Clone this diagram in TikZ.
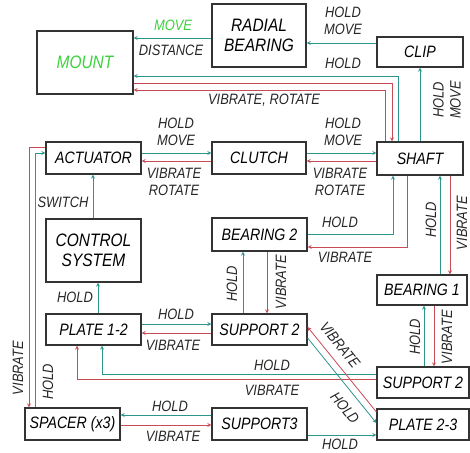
\documentclass[tikz,border=0pt]{standalone}
\usepackage{fontspec}
\setmainfont{Liberation Sans}[FakeStretch=0.86]
\usepackage{tikz}
\usetikzlibrary{positioning}

\definecolor{holdc}{RGB}{45,150,140}
\definecolor{vibc}{RGB}{200,75,85}
\definecolor{mvgreen}{RGB}{60,210,60}

\begin{document}
\begin{tikzpicture}[x=1pt, y=-1pt, >=stealth,
    block/.style={draw=black!80, line width=1.2pt, minimum width=95pt, minimum height=32pt,
                  inner sep=0pt, align=center, font=\fontsize{16.5}{20}\selectfont\itshape},
    bigblock/.style={block, minimum height=63pt, font=\fontsize{18}{20}\selectfont\itshape},
    lbl/.style={inner sep=0pt, align=center, text=black!85, font=\fontsize{15}{17}\selectfont\itshape},
    hold/.style={draw=holdc, line width=0.8pt},
    vib/.style={draw=vibc, line width=0.8pt}]
  \useasboundingbox (0,0) rectangle (470,452);
  % boxes
  \node[bigblock, minimum width=96pt, text=mvgreen] (mount) at (85,62.5) {MOUNT};
  \node[bigblock, minimum width=94pt] (radial) at (259,35.5) {RADIAL\\BEARING};
  \node[block, minimum width=86pt, minimum height=30pt] (clip) at (420,52) {CLIP};
  \node[block] (actuator) at (93.5,158) {ACTUATOR};
  \node[block, minimum width=94pt] (clutch) at (259,158) {CLUTCH};
  \node[block, minimum width=86pt, minimum height=33pt] (shaft) at (420,158.5) {SHAFT};
  \node[block, minimum height=33pt] (bearing2) at (259.5,234.5) {BEARING 2};
  \node[bigblock] (control) at (93.5,250.5) {CONTROL\\SYSTEM};
  \node[block, minimum width=90pt, minimum height=30pt] (bearing1) at (422,290) {BEARING 1};
  \node[block, minimum height=31pt] (plate12) at (93.5,329.5) {PLATE 1-2};
  \node[block, minimum height=31pt] (supportmid) at (259.5,329.5) {SUPPORT 2};
  \node[block, minimum width=92pt, minimum height=31pt] (supportright) at (423,382.5) {SUPPORT 2};
  \node[block] (spacer) at (72.5,424) {SPACER (x3)};
  \node[block] (support3) at (259.5,424) {SUPPORT3};
  \node[block, minimum width=92pt, minimum height=31pt] (plate23) at (423,424.5) {PLATE 2-3};

  % top row
  \draw[hold,->] (clip.west |- 0,43) -- (radial.east |- 0,43);
  \node[lbl] (lclip) at (343,21) {HOLD\\MOVE};
  \draw[hold,->] (radial.west |- 0,38) -- (mount.east |- 0,38);
  \node[lbl, text=mvgreen] (lmove) at (173,25) {MOVE};
  \node[lbl] (ldist) at (171,50) {DISTANCE};
  \draw[hold,->] (shaft.north -| 398,0) |- (mount.east |- 0,76);
  \node[lbl] (lmount) at (343,63) {HOLD};
  \draw[vib,->] (mount.east |- 0,83) -| (shaft.north -| 392,0);
  \draw[vib,->] (shaft.north -| 385,0) |- (mount.east |- 0,90);
  \node[lbl] (lvibrot) at (264,100) {VIBRATE, ROTATE};
  \draw[hold,->] (shaft.north -| 420,0) -- (clip.south -| 420,0);
  \node[lbl, rotate=90] (lshclip) at (447,100) {HOLD\\MOVE};

  % actuator - clutch - shaft
  \draw[hold,->] (actuator.east |- 0,153) -- (clutch.west |- 0,153);
  \draw[vib,->] (clutch.west |- 0,161) -- (actuator.east |- 0,161);
  \node[lbl] (lac1) at (176,132) {HOLD\\MOVE};
  \node[lbl] (lac2) at (174,182) {VIBRATE\\ROTATE};
  \draw[hold,->] (clutch.east |- 0,153) -- (shaft.west |- 0,153);
  \draw[vib,->] (shaft.west |- 0,161) -- (clutch.east |- 0,161);
  \node[lbl] (lcs1) at (343,132) {HOLD\\MOVE};
  \node[lbl] (lcs2) at (340,182) {VIBRATE\\ROTATE};

  % shaft - bearings
  \draw[hold,->] (bearing2.east |- 0,234) -| (shaft.south -| 393,0);
  \draw[vib,->] (shaft.south -| 407,0) |- (bearing2.east |- 0,247);
  \node[lbl] (lb2a) at (340,222) {HOLD};
  \node[lbl] (lb2b) at (345,257) {VIBRATE};
  \draw[hold,->] (bearing1.north -| 440,0) -- (shaft.south -| 440,0);
  \draw[vib,->] (shaft.south -| 450,0) -- (bearing1.north -| 450,0);
  \node[lbl, rotate=90] (lb1a) at (431,220) {HOLD};
  \node[lbl, rotate=90] (lb1b) at (462,223) {VIBRATE};

  % bearing 2 - support 2
  \draw[hold,->] (supportmid.north -| 243,0) -- (bearing2.south -| 243,0);
  \draw[vib,->] (bearing2.south -| 267,0) -- (supportmid.north -| 267,0);
  \node[lbl, rotate=90] (lsm1) at (232,284) {HOLD};
  \node[lbl, rotate=90] (lsm2) at (281,282) {VIBRATE};

  % control chain
  \draw[hold,->] (control.north -| 93,0) -- (actuator.south -| 93,0);
  \node[lbl] (lsw) at (63,202) {SWITCH};
  \draw[hold,->] (plate12.north -| 98,0) -- (control.south -| 98,0);
  \node[lbl] (lpc) at (75,297) {HOLD};

  % plate 1-2 links
  \draw[hold,->] (plate12.east |- 0,324) -- (supportmid.west |- 0,324);
  \draw[vib,->] (supportmid.west |- 0,333) -- (plate12.east |- 0,333);
  \node[lbl] (lps1) at (176,314) {HOLD};
  \node[lbl] (lps2) at (173,345) {VIBRATE};
  \draw[hold,->] (supportright.west |- 0,374) -| (plate12.south -| 102,0);
  \draw[vib,->] (supportright.west |- 0,379) -| (plate12.south -| 77,0);
  \node[lbl] (lsr1) at (272,365) {HOLD};
  \node[lbl] (lsr2) at (272,390) {VIBRATE};

  % diagonal
  \draw[vib,->] (plate23.west |- 0,412) -- (supportmid.east |- 0,327);
  \draw[hold,->] (supportmid.east |- 0,338) -- (plate23.west |- 0,423);
  \node[lbl, rotate=-51] (ldg1) at (340,345) {VIBRATE};
  \node[lbl, rotate=-51] (ldg2) at (345,408) {HOLD};

  % bearing 1 - support 2
  \draw[hold,->] (supportright.north -| 424,0) -- (bearing1.south -| 424,0);
  \draw[vib,->] (bearing1.south -| 434,0) -- (supportright.north -| 434,0);
  \node[lbl, rotate=90] (lbs1) at (415,337) {HOLD};
  \node[lbl, rotate=90] (lbs2) at (447,337) {VIBRATE};

  % bottom row
  \draw[hold,->] (support3.west |- 0,415) -- (spacer.east |- 0,415);
  \draw[vib,->] (spacer.east |- 0,425) -- (support3.west |- 0,425);
  \node[lbl] (lss1) at (170,406) {HOLD};
  \node[lbl] (lss2) at (173,436) {VIBRATE};
  \draw[hold,->] (support3.east |- 0,435) -- (plate23.west |- 0,435);
  \node[lbl] (lsp) at (340,444.5) {HOLD};

  % spacer - actuator
  \draw[vib,->] (actuator.west |- 0,147) -| (spacer.north -| 29,0);
  \draw[hold,->] (spacer.north -| 35,0) |- (actuator.west |- 0,153);
  \node[lbl, rotate=90] (lsa1) at (18,368) {VIBRATE};
  \node[lbl, rotate=90] (lsa2) at (48,382) {HOLD};
\end{tikzpicture}
\end{document}
